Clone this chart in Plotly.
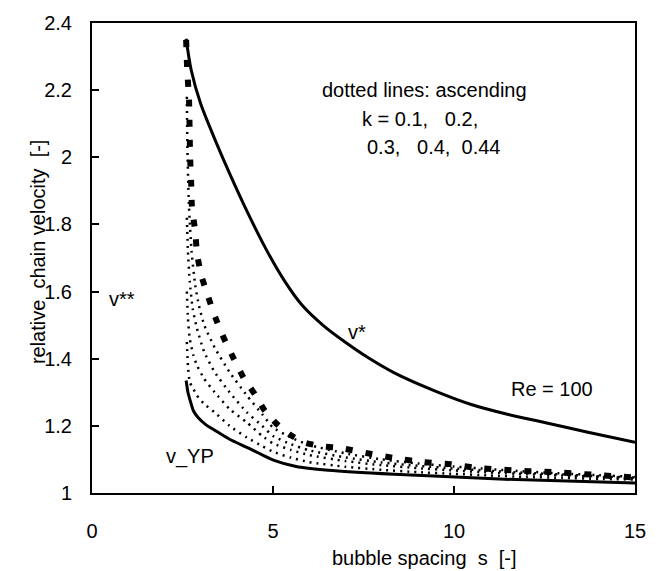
import plotly.graph_objects as go

# Bubble-chain velocity vs. spacing, Re = 100
s_vstar = [2.60, 2.74, 3.0, 3.4, 3.8, 4.3, 4.8, 5.3, 5.8, 6.4, 7.0, 7.6, 8.35, 9.5, 10.5, 11.5, 12.5, 13.7, 15.0]
v_vstar = [2.353, 2.26, 2.16, 2.052, 1.952, 1.835, 1.728, 1.635, 1.56, 1.498, 1.449, 1.405, 1.358, 1.303, 1.263, 1.234, 1.21, 1.181, 1.151]

s_vyp = [2.60, 2.65, 2.71, 2.80, 2.93, 3.15, 3.39, 3.8, 4.28, 5.01, 5.64, 6.53, 8.35, 11.4, 15.0]
v_vyp = [1.335, 1.30, 1.276, 1.245, 1.225, 1.203, 1.187, 1.16, 1.136, 1.098, 1.079, 1.068, 1.056, 1.041, 1.030]

s_k044 = [2.60, 2.63, 2.68, 2.71, 2.74, 2.76, 2.85, 2.90, 3.01, 3.20, 3.41, 3.66, 3.93, 4.20, 4.50, 4.77,
          5.09, 5.45, 5.85, 6.37, 6.91, 7.72, 8.35, 9.16, 9.89, 10.70, 12.06, 12.76, 14.04, 15.0]
v_k044 = [2.35, 2.261, 2.172, 2.003, 1.922, 1.854, 1.780, 1.715, 1.652, 1.587, 1.522, 1.457, 1.397, 1.341, 1.294, 1.246,
          1.207, 1.175, 1.151, 1.139, 1.133, 1.116, 1.104, 1.092, 1.086, 1.074, 1.065, 1.062, 1.053, 1.046]

s_k040 = [2.62, 2.64, 2.68, 2.75, 2.85, 2.95, 3.10, 3.39, 3.80, 4.28, 4.70, 5.0, 5.5, 6.0, 7.0, 8.0, 9.0, 10.0, 11.0, 12.0, 13.0, 14.0, 15.0]
v_k040 = [2.18, 2.00, 1.85, 1.72, 1.62, 1.56, 1.50, 1.433, 1.36, 1.29, 1.235, 1.195, 1.165, 1.143, 1.118, 1.100, 1.088, 1.079, 1.071, 1.064, 1.058, 1.053, 1.048]

s_k030 = [2.62, 2.65, 2.70, 2.78, 2.90, 3.10, 3.39, 3.80, 4.28, 4.70, 5.0, 5.5, 6.0, 7.0, 8.0, 9.0, 10.0, 11.0, 12.0, 13.0, 14.0, 15.0]
v_k030 = [1.82, 1.72, 1.63, 1.55, 1.49, 1.42, 1.36, 1.30, 1.24, 1.20, 1.17, 1.145, 1.127, 1.106, 1.091, 1.081, 1.073, 1.066, 1.060, 1.055, 1.050, 1.046]

s_k020 = [2.62, 2.65, 2.70, 2.80, 2.90, 3.10, 3.39, 3.80, 4.28, 4.70, 5.0, 5.5, 6.0, 7.0, 8.0, 9.0, 10.0, 11.0, 12.0, 13.0, 14.0, 15.0]
v_k020 = [1.60, 1.52, 1.46, 1.41, 1.38, 1.34, 1.30, 1.25, 1.21, 1.17, 1.148, 1.128, 1.113, 1.095, 1.083, 1.074, 1.067, 1.061, 1.056, 1.052, 1.048, 1.044]

s_k010 = [2.62, 2.65, 2.70, 2.80, 2.90, 3.10, 3.39, 3.80, 4.28, 4.70, 5.0, 5.5, 6.0, 7.0, 8.0, 9.0, 10.0, 11.0, 12.0, 13.0, 14.0, 15.0]
v_k010 = [1.45, 1.38, 1.33, 1.31, 1.29, 1.265, 1.24, 1.20, 1.165, 1.14, 1.123, 1.105, 1.092, 1.078, 1.069, 1.062, 1.057, 1.052, 1.048, 1.045, 1.042, 1.040]

x_ticks = [0, 5, 10, 15]
y_ticks = [1.0, 1.2, 1.4, 1.6, 1.8, 2.0, 2.2, 2.4]
y_tick_text = ["1", "1.2", "1.4", "1.6", "1.8", "2", "2.2", "2.4"]

FONT = "Liberation Sans, Arial, sans-serif"

fig = go.Figure()

def add_line(s, v, width, dash, smoothing=0.5):
    fig.add_trace(go.Scatter(x=s, y=v, mode="lines",
                             line=dict(color="black", width=width, dash=dash,
                                       shape="spline", smoothing=smoothing),
                             showlegend=False, hoverinfo="skip"))

add_line(s_k010, v_k010, 2.5, "2px,5px")
add_line(s_k020, v_k020, 2.5, "2px,5px")
add_line(s_k030, v_k030, 2.5, "2px,5px")
add_line(s_k040, v_k040, 2.5, "2px,5px")
add_line(s_k044, v_k044, 6, "7px,13px")
add_line(s_vstar, v_vstar, 3, "solid", 0.8)
add_line(s_vyp, v_vyp, 3, "solid")

ann = [
    dict(x=6.31, y=2.201, text="dotted lines: ascending", xanchor="left"),
    dict(x=7.39, y=2.115, text="k = 0.1,   0.2,", xanchor="left"),
    dict(x=7.55, y=2.032, text="0.3,   0.4,  0.44", xanchor="left"),
    dict(x=12.70, y=1.311, text="Re = 100", xanchor="center"),
    dict(x=7.31, y=1.480, text="v*", xanchor="center"),
    dict(x=0.82, y=1.578, text="v**", xanchor="center"),
    dict(x=2.71, y=1.110, text="v_YP", xanchor="center"),
]
for a in ann:
    fig.add_annotation(xref="x", yref="y", showarrow=False, yanchor="middle",
                       font=dict(family=FONT, size=20, color="black"), **a)

# axis titles
fig.add_annotation(xref="paper", yref="paper", x=(431 - 92) / 554, y=-(558 - 493) / 472,
                   text="bubble spacing  s  [-]", showarrow=False,
                   xanchor="center", yanchor="middle",
                   font=dict(family=FONT, size=20, color="black"))
fig.add_annotation(xref="paper", yref="paper", x=-(92 - 37) / 554, y=(493 - 251) / 472,
                   text="relative  chain velocity  [-]", showarrow=False, textangle=-90,
                   xanchor="center", yanchor="middle",
                   font=dict(family=FONT, size=20, color="black"))

fig.update_layout(
    width=658, height=571,
    margin=dict(l=92, r=12, t=21, b=78),
    paper_bgcolor="white", plot_bgcolor="white",
    font=dict(family=FONT, size=20, color="black"),
    showlegend=False,
)
fig.update_xaxes(range=[0, 15], tickvals=x_ticks, ticks="inside", ticklen=7, tickwidth=1.5,
                 tickcolor="black", showline=True, linecolor="black", linewidth=2, mirror=True,
                 showgrid=False, zeroline=False, ticklabelstandoff=19,
                 tickfont=dict(family=FONT, size=20, color="black"))
fig.update_yaxes(range=[1.0, 2.4], tickvals=y_ticks, ticktext=y_tick_text, ticks="inside",
                 ticklen=7, tickwidth=1.5, tickcolor="black", showline=True, linecolor="black",
                 linewidth=2, mirror=True, showgrid=False, zeroline=False, ticklabelstandoff=14,
                 tickfont=dict(family=FONT, size=20, color="black"))

fig.write_html("out.html")
